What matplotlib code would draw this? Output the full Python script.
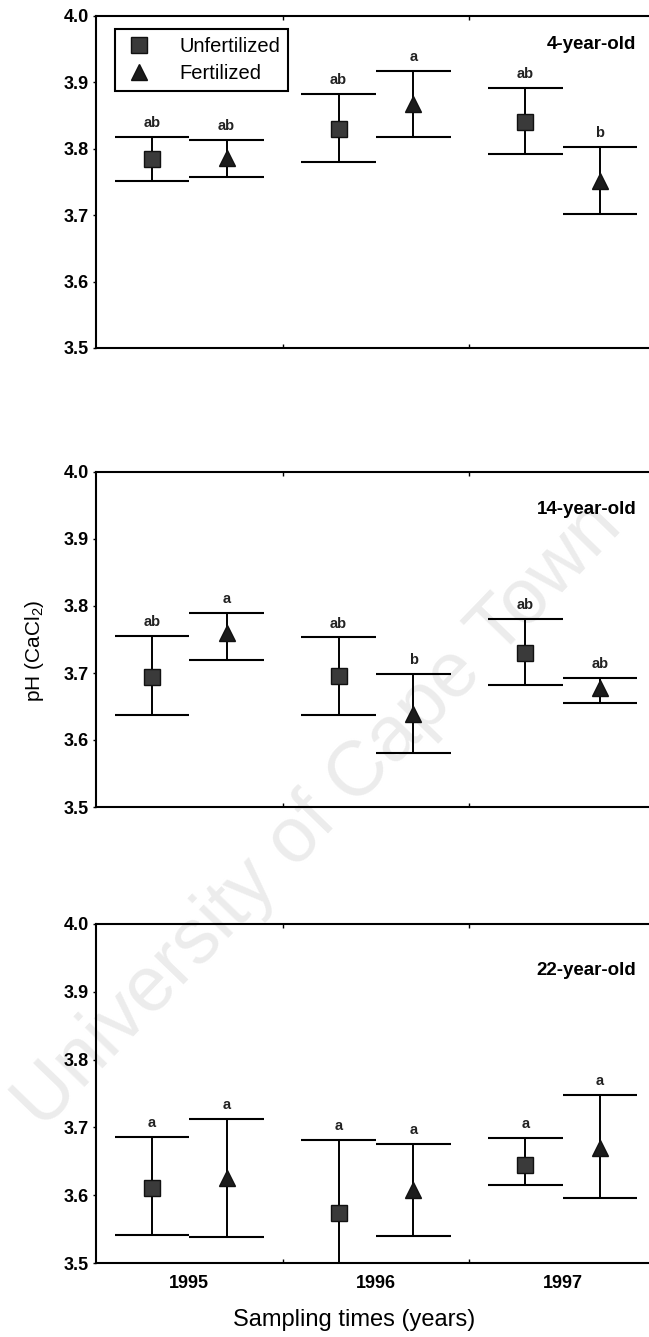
import numpy as np
import matplotlib
matplotlib.use('Agg')
import matplotlib.pyplot as plt
from matplotlib.lines import Line2D

plt.rcParams['font.family'] = ['Liberation Sans', 'DejaVu Sans']
plt.rcParams['mathtext.fontset'] = 'custom'
plt.rcParams['mathtext.rm'] = 'Liberation Sans'
plt.rcParams['mathtext.default'] = 'regular'

years = ['1995', '1996', '1997']
stand_ages = ['4-year-old', '14-year-old', '22-year-old']

# pH means with lower / upper limits, one list per stand age
unfert_mean = [[3.785, 3.830, 3.840], [3.694, 3.695, 3.730], [3.611, 3.574, 3.645]]
unfert_hi = [[3.818, 3.883, 3.891], [3.755, 3.753, 3.780], [3.686, 3.681, 3.685]]
unfert_lo = [[3.751, 3.780, 3.792], [3.638, 3.638, 3.682], [3.542, 3.467, 3.615]]

fert_mean = [[3.786, 3.868, 3.752], [3.759, 3.639, 3.678], [3.625, 3.607, 3.669]]
fert_hi = [[3.813, 3.917, 3.803], [3.790, 3.698, 3.693], [3.712, 3.675, 3.748]]
fert_lo = [[3.758, 3.818, 3.702], [3.720, 3.581, 3.655], [3.538, 3.540, 3.596]]

unfert_letters = [['ab', 'ab', 'ab'], ['ab', 'ab', 'ab'], ['a', 'a', 'a']]
fert_letters = [['ab', 'a', 'b'], ['a', 'b', 'ab'], ['a', 'a', 'a']]

label_y = [0.913, 0.887, 0.864]

fig = plt.figure(figsize=(6.49, 13.37), dpi=100)
W, H = 649.0, 1337.0
# pixel boxes (left, top, right, bottom) of the three panels
boxes = [(96, 16, 656, 348), (96, 472, 656, 807), (96, 924, 656, 1263)]

x = np.arange(3)
cap_w = 0.2


def draw_series(ax, xs, mean, lo, hi, letters, marker, ms, fc):
    ax.vlines(xs, lo, hi, color='black', lw=1.4, zorder=2)
    ax.hlines(hi, xs - cap_w, xs + cap_w, color='black', lw=1.5, zorder=2)
    ax.hlines(lo, xs - cap_w, xs + cap_w, color='black', lw=1.5, zorder=2)
    ax.plot(xs, mean, linestyle='none', marker=marker, ms=ms, mfc=fc,
            mec='#111111', mew=1.0, zorder=3)
    for xi, yi, t in zip(xs, hi, letters):
        ax.annotate(t, (xi, yi), xytext=(0, 5), textcoords='offset points',
                    ha='center', va='bottom', fontsize=10.5, fontweight='bold',
                    color='#222222')


for i, (l, t, r, b) in enumerate(boxes):
    ax = fig.add_axes([l / W, 1 - b / H, (r - l) / W, (b - t) / H])
    ax.set_facecolor('none')
    ax.set_xlim(0, 3)
    ax.set_ylim(3.5, 4.0)

    draw_series(ax, x + 0.3, unfert_mean[i], unfert_lo[i], unfert_hi[i],
                unfert_letters[i], 's', 12, '#3a3a3a')
    draw_series(ax, x + 0.7, fert_mean[i], fert_lo[i], fert_hi[i],
                fert_letters[i], '^', 12, '#1c1c1c')

    ax.text(0.965, label_y[i], stand_ages[i], transform=ax.transAxes,
            ha='right', va='center', fontsize=13.5, fontweight='bold')

    ax.set_yticks(np.arange(3.5, 4.01, 0.1))
    ax.set_yticklabels(['%.1f' % v for v in np.arange(3.5, 4.01, 0.1)],
                       fontsize=13, fontweight='bold')
    ax.set_xticks([1, 2], minor=True)
    ax.set_xticks(x + 0.5)
    ax.tick_params(axis='x', which='minor', direction='in', length=3,
                   width=1, top=True, bottom=True)
    ax.tick_params(axis='x', which='major', length=0, pad=9)
    ax.tick_params(axis='y', direction='out', length=2, width=1, pad=3)
    if i == 2:
        ax.set_xticklabels(years, fontsize=13, fontweight='bold')
    else:
        ax.set_xticklabels([])
    for s in ax.spines.values():
        s.set_linewidth(1.5)

    if i == 0:
        handles = [
            Line2D([], [], linestyle='none', marker='s', ms=11, mfc='#3a3a3a', mec='#111111'),
            Line2D([], [], linestyle='none', marker='^', ms=11, mfc='#1c1c1c', mec='#111111'),
        ]
        leg = ax.legend(handles, ['Unfertilized', 'Fertilized'], loc='upper left',
                        bbox_to_anchor=(0.034, 0.961), borderaxespad=0,
                        fancybox=False, framealpha=1, edgecolor='black',
                        fontsize=14.5, handletextpad=1.2, borderpad=0.4,
                        labelspacing=0.4, handlelength=1.6)
        leg.get_frame().set_linewidth(1.5)

fig.text(35 / W, 1 - 651 / H, 'pH (CaCl$_2$)', rotation=90, ha='center',
         va='center', fontsize=15)
fig.text(354 / W, 1 - 1320 / H, 'Sampling times (years)', ha='center',
         va='center', fontsize=17)

# faint diagonal watermark behind the panels
fig.text(0.49, 0.39, 'University of Cape Town', rotation=46, ha='center',
         va='center', fontsize=56, color='#ececec', zorder=-5)

fig.savefig('out.png', dpi=100)
